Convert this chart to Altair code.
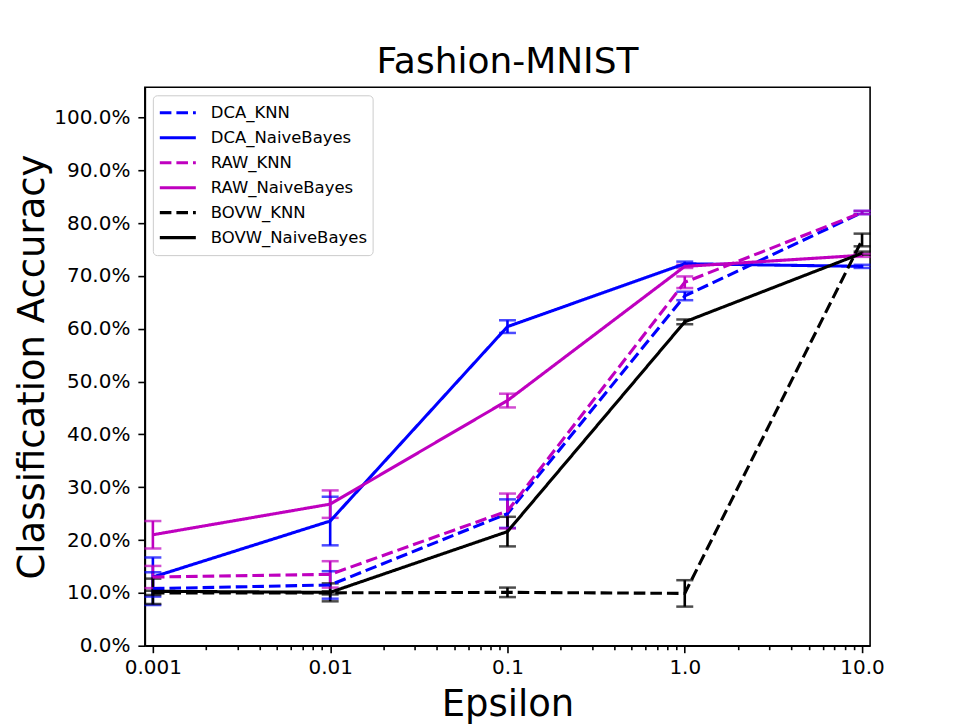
import altair as alt
import pandas as pd

eps = [0.001, 0.01, 0.1, 1.0, 10.0]
series_names = ["DCA_KNN", "DCA_NaiveBayes", "RAW_KNN", "RAW_NaiveBayes", "BOVW_KNN", "BOVW_NaiveBayes"]
series_colors = ["#0000ff", "#0000ff", "#bf00bf", "#bf00bf", "#000000", "#000000"]

dca_knn = [10.8, 11.5, 25.0, 66.2, 82.0]
dca_knn_err = [3.1, 2.6, 2.7, 0.8, 0.3]
dca_nb = [13.0, 23.6, 60.4, 72.3, 71.8]
dca_nb_err = [3.7, 4.6, 1.2, 0.4, 0.3]
raw_knn = [13.0, 13.5, 25.5, 68.8, 82.0]
raw_knn_err = [2.1, 2.5, 3.3, 1.1, 0.3]
raw_nb = [21.0, 26.8, 46.4, 71.8, 73.9]
raw_nb_err = [2.6, 2.6, 1.3, 0.3, 0.3]
bovw_knn = [10.0, 10.0, 10.1, 9.9, 76.8]
bovw_knn_err = [0.4, 0.3, 0.9, 2.5, 1.2]
bovw_nb = [10.3, 10.1, 21.6, 61.3, 74.3]
bovw_nb_err = [2.4, 1.7, 2.8, 0.45, 0.3]

x_major = [0.001, 0.01, 0.1, 1, 10]
x_major_labels = ["0.001", "0.01", "0.1", "1.0", "10.0"]
y_ticks = [0.0, 0.1, 0.2, 0.3, 0.4, 0.5, 0.6, 0.7, 0.8, 0.9, 1.0]

vals = [dca_knn, dca_nb, raw_knn, raw_nb, bovw_knn, bovw_nb]
errs = [dca_knn_err, dca_nb_err, raw_knn_err, raw_nb_err, bovw_knn_err, bovw_nb_err]

rows = []
for name, v, e in zip(series_names, vals, errs):
    for x, a, d in zip(eps, v, e):
        rows.append({"series": name, "eps": x, "acc": a / 100.0,
                     "lo": (a - d) / 100.0, "hi": (a + d) / 100.0})
df = pd.DataFrame(rows)

x_minor = []
for ex in range(-3, 2):
    for k in range(2, 10):
        val = round(k * 10.0 ** ex, 6)
        if val <= 11.1:
            x_minor.append(val)
x_values = sorted(x_major + x_minor)

label_expr = " : ".join(
    f"datum.value == {v} ? '{l}'" for v, l in zip(x_major, x_major_labels)
) + " : ''"
major_test = "indexof([0.001, 0.01, 0.1, 1, 10], datum.value) < 0"

FONT = "DejaVu Sans"

x_scale = alt.Scale(type="log", domain=[0.000901, 11.1])
y_scale = alt.Scale(domain=[0, 1.057])

x_axis = alt.Axis(
    values=x_values, labelExpr=label_expr, labelOverlap=False, labelFlush=False,
    tickSize={"condition": {"test": major_test, "value": 4}, "value": 7},
    tickWidth=1.6, domainWidth=1.6, tickColor="black", domainColor="black",
    labelFontSize=20, labelFont=FONT, labelColor="black", labelPadding=5,
    titleFontSize=37, titleFont=FONT, titleFontWeight="normal", titleColor="black",
    titlePadding=9, grid=False,
)
y_axis = alt.Axis(
    values=y_ticks, format=".1%", tickSize=7, tickWidth=1.6, domainWidth=1.6,
    tickColor="black", domainColor="black",
    labelFontSize=20, labelFont=FONT, labelColor="black", labelPadding=8,
    titleFontSize=37, titleFont=FONT, titleFontWeight="normal", titleColor="black",
    titlePadding=2, grid=False,
)

color_scale = alt.Scale(domain=series_names, range=series_colors)
dash_scale = alt.Scale(domain=series_names,
                       range=[[11.6, 5], [1, 0], [11.6, 5], [1, 0], [11.6, 5], [1, 0]])

legend = alt.Legend(
    title=None, orient="none", legendX=8, legendY=8,
    labelFontSize=16.5, labelFont=FONT, labelColor="black", labelOffset=13,
    symbolSize=1300, symbolStrokeWidth=3.1, symbolType="stroke",
    clipHeight=25, rowPadding=0, padding=5,
    strokeColor="#cccccc", fillColor="white", cornerRadius=4,
)

X = alt.X("eps:Q", scale=x_scale, axis=x_axis, title="Epsilon")

base = alt.Chart(df)

rules = base.mark_rule(strokeWidth=2.6).encode(
    x=X,
    y=alt.Y("lo:Q", scale=y_scale, axis=y_axis, title="Classification Accuracy"),
    y2="hi:Q",
    color=alt.Color("series:N", scale=color_scale, legend=None),
)
caps_lo = base.mark_tick(orient="horizontal", size=17, thickness=2.5).encode(
    x=X, y=alt.Y("lo:Q", scale=y_scale),
    color=alt.Color("series:N", scale=color_scale, legend=None),
)
caps_hi = base.mark_tick(orient="horizontal", size=17, thickness=2.5).encode(
    x=X, y=alt.Y("hi:Q", scale=y_scale),
    color=alt.Color("series:N", scale=color_scale, legend=None),
)
lines = base.mark_line(strokeWidth=3.1).encode(
    x=X,
    y=alt.Y("acc:Q", scale=y_scale),
    color=alt.Color("series:N", scale=color_scale, legend=legend),
    strokeDash=alt.StrokeDash("series:N", scale=dash_scale, legend=legend),
    order=alt.Order("eps:Q"),
)

chart = alt.layer(rules, caps_lo, caps_hi, lines).resolve_legend(
    color="independent", strokeDash="independent"
).properties(
    width=726, height=559,
    title=alt.TitleParams("Fashion-MNIST", fontSize=36, font=FONT, fontWeight="normal",
                          anchor="middle", offset=6, color="black"),
    autosize=alt.AutoSizeParams(type="none"),
    padding={"left": 137, "top": 79, "right": 90, "bottom": 79},
    view=alt.ViewBackground(stroke="black", strokeWidth=1.6, fill="white"),
).configure_view(stroke="black", strokeWidth=1.6).configure(background="white")

chart.save("out.html", embed_options={"renderer": "svg", "actions": False})
